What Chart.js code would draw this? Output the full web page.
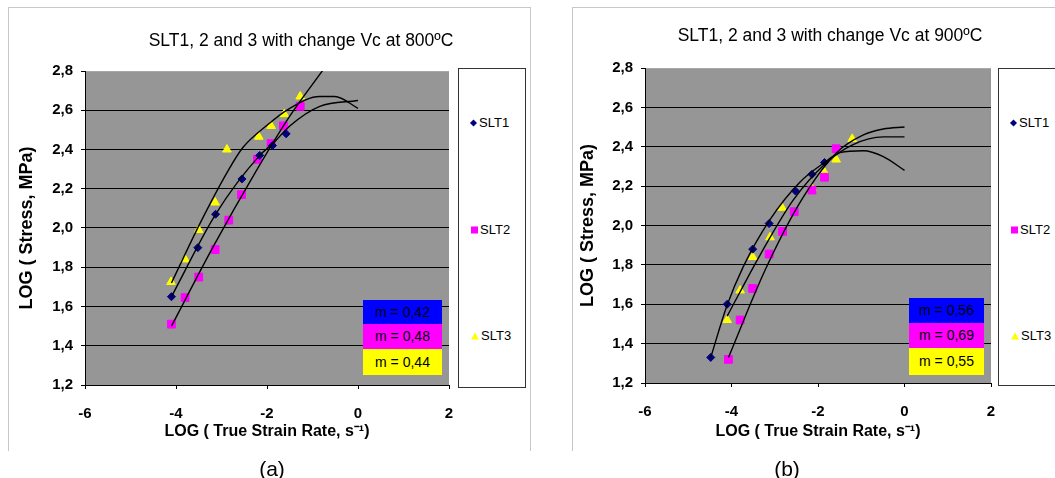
<!DOCTYPE html>
<html>
<head>
<meta charset="utf-8">
<script src="https://cdn.jsdelivr.net/npm/chart.js@4.4.0/dist/chart.umd.min.js"></script>
<style>
body { margin: 0; background: #fff; font-family: "Liberation Sans", Arial, sans-serif; }
#page { position: relative; width: 1055px; height: 478px; overflow: hidden; }
.panel { position: absolute; top: 7px; height: 443px; border: 1px solid #c8c8c8; border-bottom: none; }
.title { position: absolute; font-size: 17.5px; white-space: nowrap; transform: translate(-50%, -50%); }
.caption { position: absolute; font-size: 21px; transform: translate(-50%, -50%); }
canvas { position: absolute; top: 0; }
.legend { position: absolute; top: 68px; background: #fff; border: 1px solid #333; }
.entry { position: absolute; left: 12px; font-size: 13px; white-space: nowrap; transform: translateY(-50%); }
.mk { display: inline-block; vertical-align: middle; margin-right: 2px; }
.m0 { width: 5px; height: 5px; background: #000080; transform: rotate(45deg); margin-right: 3px; }
.m1 { width: 7px; height: 7px; background: #ff00ff; }
.m2 { width: 0; height: 0; border-left: 4px solid transparent; border-right: 4px solid transparent; border-bottom: 7px solid #ffff00; }
.mbox { position: absolute; font-size: 14px; text-align: center; color: #000; }
</style>
</head>
<body>
<div id="page">
  <div class="panel" style="left:8px; width:521px;"></div>
  <div class="panel" style="left:572px; width:520px;"></div>
  <canvas id="c800" width="530" height="478" style="left:0px;"></canvas>
  <canvas id="c900" width="483" height="478" style="left:572px;"></canvas>
</div>
<script>
const seriesNames = ['SLT1', 'SLT2', 'SLT3'];
const seriesColors = ['#000080', '#ff00ff', '#ffff00'];
const xTicks = [-6, -4, -2, 0, 2];
const yTicks = [1.2, 1.4, 1.6, 1.8, 2.0, 2.2, 2.4, 2.6, 2.8];

// 800 C measured points [log strain rate, log stress]
const slt1_800 = [[-4.10, 1.65], [-3.52, 1.90], [-3.13, 2.07], [-2.55, 2.25], [-2.16, 2.37], [-1.88, 2.42], [-1.58, 2.48]];
const slt2_800 = [[-4.10, 1.51], [-3.80, 1.645], [-3.50, 1.75], [-3.14, 1.89], [-2.84, 2.04], [-2.56, 2.17], [-2.21, 2.35], [-1.91, 2.43], [-1.64, 2.52], [-1.27, 2.62]];
const slt3_800 = [[-4.11, 1.725], [-3.80, 1.84], [-3.50, 1.99], [-3.14, 2.13], [-2.88, 2.40], [-2.18, 2.465], [-1.91, 2.52], [-1.62, 2.58], [-1.27, 2.67]];
// 800 C trend lines
const fit1_800 = [[-4.10, 1.65], [-3.13, 2.07], [-2.16, 2.37], [-1.87, 2.43], [-1.50, 2.52], [-0.84, 2.62], [0.00, 2.65]];
const fit2_800 = [[-4.10, 1.50], [-3.17, 1.91], [-2.24, 2.29], [-1.50, 2.57], [-0.77, 2.805]];
const fit3_800 = [[-4.10, 1.72], [-3.48, 2.02], [-2.86, 2.29], [-2.53, 2.41], [-2.02, 2.52], [-1.50, 2.61], [-0.84, 2.67], [-0.51, 2.67], [0.00, 2.61]];

// 900 C measured points
const slt1_900 = [[-4.48, 1.33], [-4.10, 1.60], [-3.51, 1.88], [-3.13, 2.01], [-2.52, 2.175], [-2.14, 2.26], [-1.85, 2.32]];
const slt2_900 = [[-4.07, 1.32], [-3.80, 1.52], [-3.51, 1.68], [-3.13, 1.855], [-2.82, 1.97], [-2.55, 2.07], [-2.14, 2.18], [-1.85, 2.245], [-1.58, 2.39]];
const slt3_900 = [[-4.10, 1.52], [-3.80, 1.67], [-3.51, 1.84], [-3.11, 1.94], [-2.83, 2.09], [-2.14, 2.19], [-1.85, 2.27], [-1.58, 2.335], [-1.21, 2.44]];
// 900 C trend lines
const fit1_900 = [[-4.48, 1.33], [-4.11, 1.59], [-3.73, 1.79], [-3.11, 2.03], [-2.42, 2.22], [-1.88, 2.315], [-1.49, 2.37], [-0.95, 2.38], [-0.49, 2.35], [0.00, 2.28]];
const fit2_900 = [[-4.07, 1.33], [-3.23, 1.77], [-2.38, 2.13], [-1.57, 2.37], [-0.95, 2.46], [-0.49, 2.49], [0.00, 2.50]];
const fit3_900 = [[-4.10, 1.54], [-3.34, 1.85], [-2.57, 2.13], [-1.80, 2.32], [-1.20, 2.41], [-0.49, 2.45], [0.00, 2.45]];

const mText800 = ['m = 0,42', 'm = 0,48', 'm = 0,44'];
const mText900 = ['m = 0,56', 'm = 0,69', 'm = 0,55'];

const plotBg = {
    id: 'plotBg',
    beforeDraw(chart) {
        const { ctx, chartArea: a } = chart;
        ctx.save();
        ctx.fillStyle = '#969696';
        ctx.fillRect(a.left, a.top, a.right - a.left, a.bottom - a.top);
        ctx.restore();
    }
};

function toXY(arr) {
    return arr.map(p => ({ x: p[0], y: p[1] }));
}

function makeChart(id, points, fits, g) {
    const styles = ['rectRot', 'rect', 'triangle'];
    const radii = [4, 5.5, 5];
    const datasets = [];
    fits.forEach(f => {
        datasets.push({
            data: toXY(f), showLine: true, borderColor: '#000', borderWidth: 1.4,
            pointRadius: 0, cubicInterpolationMode: 'monotone', order: 0
        });
    });
    points.forEach((p, i) => {
        datasets.push({
            label: seriesNames[i], data: toXY(p), showLine: false,
            pointStyle: styles[i], pointRadius: radii[i],
            backgroundColor: seriesColors[i], borderColor: seriesColors[i], borderWidth: 1, order: 1
        });
    });
    return new Chart(document.getElementById(id), {
        type: 'scatter',
        data: { datasets: datasets },
        plugins: [plotBg],
        options: {
            responsive: false,
            animation: false,
            layout: { padding: g.pad },
            plugins: { legend: { display: false }, tooltip: { enabled: false } },
            scales: {
                x: {
                    min: -6, max: 2,
                    afterBuildTicks: s => { s.ticks = xTicks.map(v => ({ value: v })); },
                    afterFit: s => { s.height = g.xh; },
                    ticks: { callback: v => String(v), color: '#000', padding: 16, font: { family: 'Liberation Sans', size: 15, weight: 'bold' } },
                    grid: { drawOnChartArea: false, tickLength: 4, color: '#000', tickColor: '#000' },
                    border: { color: '#000', width: 1 },
                    title: { display: true, text: 'LOG ( True Strain Rate, s\u207B\u00B9)', color: '#000', padding: { top: 4, bottom: 4 }, font: { family: 'Liberation Sans', size: 16, weight: 'bold' } }
                },
                y: {
                    min: 1.2, max: 2.8,
                    afterBuildTicks: s => { s.ticks = yTicks.map(v => ({ value: v })); },
                    afterFit: s => { s.width = g.yw; },
                    ticks: { callback: v => v.toFixed(1).replace('.', ','), color: '#000', padding: 8, font: { family: 'Liberation Sans', size: 15, weight: 'bold' } },
                    grid: {
                        color: c => (c.tick && Math.abs(c.tick.value - 2.8) < 1e-6) ? '#a8a8a8' : '#000',
                        tickColor: '#000', tickLength: 4, lineWidth: 1
                    },
                    border: { color: '#000', width: 1 },
                    title: { display: true, text: 'LOG ( Stress, MPa)', color: '#000', padding: { top: 4, bottom: 4 }, font: { family: 'Liberation Sans', size: 18, weight: 'bold' } }
                }
            }
        }
    });
}

makeChart('c800', [slt1_800, slt2_800, slt3_800], [fit1_800, fit2_800, fit3_800],
    { pad: { left: 12, right: 81, top: 71, bottom: 33 }, yw: 73, xh: 60 });
makeChart('c900', [slt1_900, slt2_900, slt3_900], [fit1_900, fit2_900, fit3_900],
    { pad: { left: 1, right: 64, top: 68, bottom: 33 }, yw: 72, xh: 62 });

// titles, captions, legends and m boxes
const page = document.getElementById('page');
function addDiv(cls, css, html) {
    const d = document.createElement('div');
    d.className = cls;
    d.style.cssText = css;
    d.innerHTML = html;
    page.appendChild(d);
    return d;
}
addDiv('title', 'left:301px; top:40px;', 'SLT1, 2 and 3 with change Vc at 800\u00BAC');
addDiv('title', 'left:830px; top:35px;', 'SLT1, 2 and 3 with change Vc at 900\u00BAC');
addDiv('caption', 'left:272px; top:469px;', '(a)');
addDiv('caption', 'left:787px; top:469px;', '(b)');

const legendRows = [53, 160, 266];
function addLegend(left, width, height) {
    const box = addDiv('legend', 'left:' + left + 'px; width:' + width + 'px; height:' + height + 'px;', '');
    seriesNames.forEach((name, i) => {
        const e = document.createElement('div');
        e.className = 'entry';
        e.style.top = legendRows[i] + 'px';
        e.innerHTML = '<span class="mk m' + i + '"></span>' + name;
        box.appendChild(e);
    });
}
addLegend(458, 66, 318);
addLegend(998, 90, 316);

const mColors = ['#0000ff', '#ff00ff', '#ffff00'];
function addMBoxes(left, width, tops, texts) {
    texts.forEach((t, i) => {
        const h = tops[i + 1] - tops[i];
        addDiv('mbox', 'left:' + left + 'px; top:' + tops[i] + 'px; width:' + width + 'px; height:' + h + 'px; line-height:' + h + 'px; background:' + mColors[i] + ';', t);
    });
}
addMBoxes(363, 79, [300, 324, 349, 375], mText800);
addMBoxes(909, 75, [298, 323, 348, 375], mText900);
</script>
</body>
</html>
